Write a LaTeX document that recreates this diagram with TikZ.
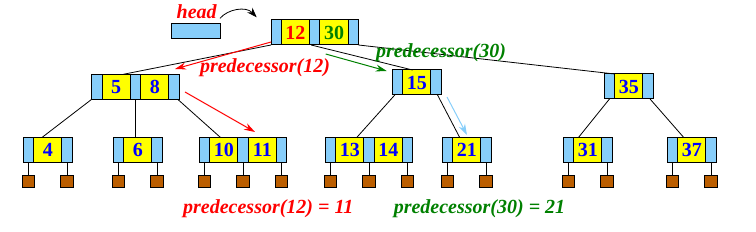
\documentclass[tikz,border=0pt]{standalone}
\usepackage{fontspec}
\setmainfont{Liberation Serif}
\usetikzlibrary{arrows.meta, positioning}
\definecolor{ptrblue}{RGB}{135,206,250}
\definecolor{keyyellow}{RGB}{255,255,0}
\definecolor{nilbrown}{RGB}{187,94,0}
\definecolor{predgreen}{RGB}{0,128,0}

\tikzset{
  ptrcell/.style={draw, fill=ptrblue, line width=1pt, minimum width=10.3pt, minimum height=25pt, inner sep=0pt, outer sep=0pt},
  keycell/.style={draw, fill=keyyellow, line width=1pt, minimum width=28.3pt, minimum height=25pt, inner sep=0pt, outer sep=0pt, text=blue, font=\fontsize{20}{23}\selectfont\bfseries},
  nilbox/.style={draw, fill=nilbrown, line width=1pt, minimum size=12.3pt, inner sep=0pt},
  lbl/.style={font=\fontsize{20}{23}\selectfont\bfseries\itshape, inner sep=0pt},
  link/.style={line width=0.8pt},
  predarrow/.style={line width=1pt, -{Stealth[length=11pt,width=7pt]}}
}

\begin{document}
\begin{tikzpicture}[x=1pt, y=-1pt]
  \useasboundingbox (0,0) rectangle (756,232);
  % head pointer
  \node[draw, fill=ptrblue, line width=1pt, minimum width=49pt, minimum height=15pt, inner sep=0pt] (headbox) at (196,31) {};
  \node[lbl, text=red] (headlbl) at (196.7,12) {head};
  % root
  \node[ptrcell, anchor=north west] (r0) at (271,20) {};
  \node[keycell, right=0pt of r0, text=red] (r1) {12};
  \node[ptrcell, right=0pt of r1] (r2) {};
  \node[keycell, right=0pt of r2, text=predgreen] (r3) {30};
  \node[ptrcell, right=0pt of r3] (r4) {};
  % second level
  \node[ptrcell, anchor=north west] (b0) at (91.7,74.3) {};
  \node[keycell, right=0pt of b0] (b1) {5};
  \node[ptrcell, right=0pt of b1] (b2) {};
  \node[keycell, right=0pt of b2] (b3) {8};
  \node[ptrcell, right=0pt of b3] (b4) {};
  \node[ptrcell, anchor=north west] (c0) at (392.3,70) {};
  \node[keycell, right=0pt of c0] (c1) {15};
  \node[ptrcell, right=0pt of c1] (c2) {};
  \node[ptrcell, anchor=north west] (d0) at (604.3,74) {};
  \node[keycell, right=0pt of d0] (d1) {35};
  \node[ptrcell, right=0pt of d1] (d2) {};
  % leaves
  \node[ptrcell, anchor=north west] (e0) at (23.3,137.3) {};
  \node[keycell, right=0pt of e0] (e1) {4};
  \node[ptrcell, right=0pt of e1] (e2) {};
  \node[ptrcell, anchor=north west] (f0) at (113.3,137.3) {};
  \node[keycell, right=0pt of f0] (f1) {6};
  \node[ptrcell, right=0pt of f1] (f2) {};
  \node[ptrcell, anchor=north west] (g0) at (199.3,137.3) {};
  \node[keycell, right=0pt of g0] (g1) {10};
  \node[ptrcell, right=0pt of g1] (g2) {};
  \node[keycell, right=0pt of g2] (g3) {11};
  \node[ptrcell, right=0pt of g3] (g4) {};
  \node[ptrcell, anchor=north west] (h0) at (325.3,137.3) {};
  \node[keycell, right=0pt of h0] (h1) {13};
  \node[ptrcell, right=0pt of h1] (h2) {};
  \node[keycell, right=0pt of h2] (h3) {14};
  \node[ptrcell, right=0pt of h3] (h4) {};
  \node[ptrcell, anchor=north west] (i0) at (442.3,137.3) {};
  \node[keycell, right=0pt of i0] (i1) {21};
  \node[ptrcell, right=0pt of i1] (i2) {};
  \node[ptrcell, anchor=north west] (j0) at (563.3,137.3) {};
  \node[keycell, right=0pt of j0] (j1) {31};
  \node[ptrcell, right=0pt of j1] (j2) {};
  \node[ptrcell, anchor=north west] (k0) at (667.3,137.3) {};
  \node[keycell, right=0pt of k0] (k1) {37};
  \node[ptrcell, right=0pt of k1] (k2) {};
  % nil pointers
  \foreach \p in {e0,e2,f0,f2,g0,g2,g4,h0,h2,h4,i0,i2,j0,j2,k0,k2} {
    \node[nilbox, below=12.7pt of \p] (n\p) {};
    \draw[line width=1pt] (\p.south) -- (n\p.north);
  }
  % tree links
  \draw[link] (r0.south west) -- ([xshift=-7pt]b1.north east);
  \draw[link] ([xshift=1.5pt]r2.south west) -- ([xshift=10pt]c1.north west);
  \draw[link] (r4.south east) -- (d0.north east);
  \draw[link] (b0.south west) -- ([xshift=8.6pt]e1.north west);
  \draw[link] (b2.south) -- (b2.south |- f1.north);
  \draw[link] ([xshift=-1.5pt]b4.south east) -- ([xshift=10.7pt]g1.north west);
  \draw[link] ([xshift=2.5pt]c0.south west) -- ([xshift=-7pt]h1.north east);
  \draw[link] ([xshift=1.5pt]c2.south) -- ([xshift=7pt]i1.north west);
  \draw[link] (d0.south) -- ([xshift=5pt]j1.north west);
  \draw[link] ([xshift=2pt]d2.south) -- ([xshift=6pt]k1.north west);
  % predecessor arrows
  \coordinate (p12a) at (175,69);
  \coordinate (p12b) at (185,92);
  \coordinate (p12c) at (255,132);
  \coordinate (p30a) at (325.7,54);
  \coordinate (p30b) at (386.7,71);
  \coordinate (p30c) at (447,97);
  \coordinate (p30d) at (467,135);
  \draw[predarrow, red] ([yshift=3pt]r0.south west) -- (p12a);
  \draw[predarrow, red] (p12b) -- (p12c);
  \draw[predarrow, predgreen] (p30a) -- (p30b);
  \draw[predarrow, ptrblue] (p30c) -- (p30d);
  \coordinate (hs) at (220,18.3);
  \coordinate (he) at (256.7,17.3);
  \draw[line width=0.8pt, -{Stealth[length=10pt,width=7pt]}] (hs) .. controls (228,9) and (246,6) .. (he);
  % labels
  \node[lbl, text=red] (lbl12) at (265,68) {predecessor(12)};
  \node[lbl, text=predgreen] (lbl30) at (441,53) {predecessor(30)};
  \node[lbl, text=red] (res12) at (268.3,208.5) {predecessor(12) = 11};
  \node[lbl, text=predgreen] (res30) at (479.5,208.5) {predecessor(30) = 21};
\end{tikzpicture}
\end{document}
